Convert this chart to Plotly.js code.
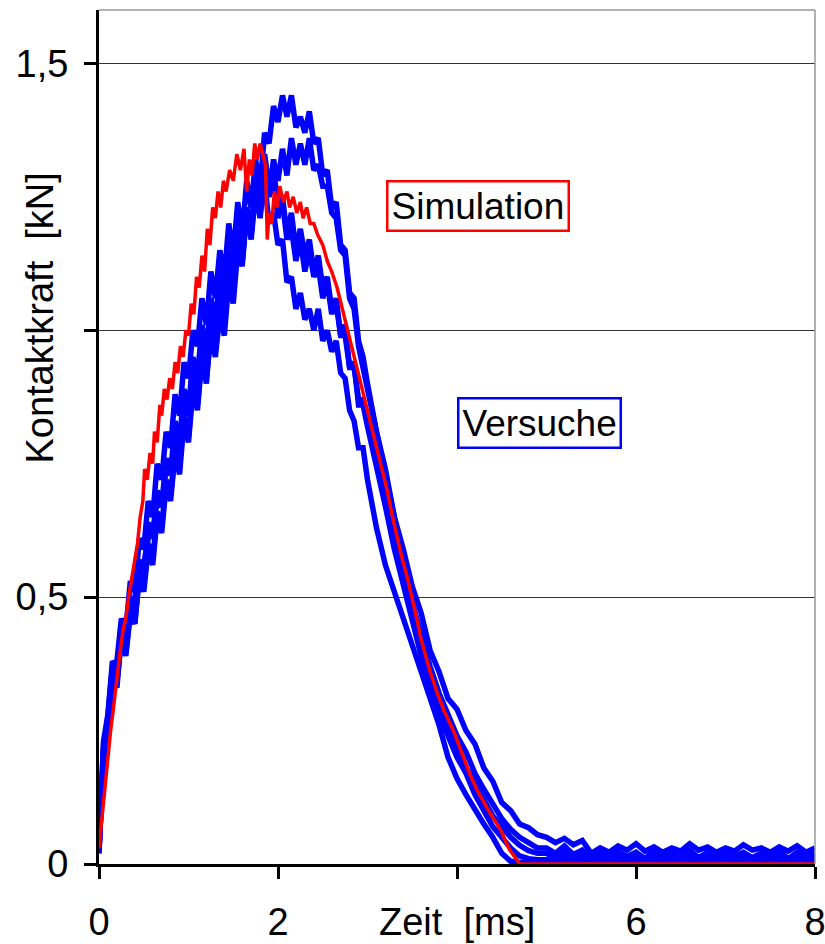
<!DOCTYPE html>
<html>
<head>
<meta charset="utf-8">
<script src="https://cdn.plot.ly/plotly-3.0.1.min.js"></script>
<style>html,body{margin:0;padding:0;background:#fff;}#chart{width:825px;height:944px;}</style>
</head>
<body>
<div id="chart"></div>
<script>
// ---------- DATA ----------
// common time grid of the measured curves (ms)
const tVersuch = [
0.00,0.05,0.10,0.15,0.20,0.25,0.30,0.35,0.40,0.45,0.50,0.55,0.60,0.65,0.70,0.75,0.80,0.85,0.90,0.95,
1.00,1.05,1.10,1.15,1.20,1.25,1.30,1.35,1.40,1.45,1.50,1.55,1.60,1.65,1.70,1.75,1.80,1.85,1.90,1.95,
2.00,2.05,2.10,2.15,2.20,2.25,2.30,2.35,2.40,2.45,2.50,2.55,2.60,2.65,2.70,2.75,2.80,2.85,2.90,2.95,
3.0,3.1,3.2,3.3,3.4,3.5,3.6,3.7,3.8,3.9,4.0,4.1,4.2,4.3,4.4,4.5,4.6,4.7,4.8,4.9,
5.0,5.1,5.2,5.3,5.4,5.5,5.6,5.7,5.8,5.9,6.0,6.1,6.2,6.3,6.4,6.5,6.6,6.7,6.8,6.9,
7.0,7.1,7.2,7.3,7.4,7.5,7.6,7.7,7.8,7.9,8.0];

// measured contact force (kN), five tests
const versuch1 = [
0.02,0.21,0.25,0.36,0.33,0.43,0.40,0.47,0.45,0.54,0.52,0.60,0.57,0.66,0.63,0.72,0.69,0.78,0.75,0.84,
0.80,0.90,0.86,0.95,0.91,0.99,0.95,1.03,0.99,1.09,1.05,1.15,1.12,1.22,1.18,1.29,1.27,1.37,1.35,1.42,
1.39,1.44,1.40,1.44,1.38,1.40,1.37,1.41,1.35,1.36,1.29,1.30,1.23,1.24,1.16,1.15,1.07,1.06,0.98,0.95,
0.90,0.81,0.74,0.65,0.59,0.52,0.47,0.40,0.36,0.31,0.29,0.25,0.225,0.18,0.155,0.115,0.10,0.075,0.068,0.055,
0.050,0.040,0.048,0.036,0.044,0.020,0.030,0.022,0.034,0.026,0.038,0.024,0.032,0.022,0.030,0.024,0.038,0.026,0.032,0.022,
0.030,0.024,0.036,0.026,0.030,0.022,0.032,0.024,0.034,0.022,0.030];

const versuch2 = [
0.03,0.22,0.27,0.35,0.37,0.42,0.43,0.48,0.50,0.55,0.56,0.61,0.62,0.68,0.67,0.74,0.73,0.80,0.77,0.86,
0.84,0.93,0.89,0.98,0.94,1.04,0.99,1.09,1.04,1.14,1.09,1.18,1.13,1.22,1.17,1.26,1.21,1.29,1.25,1.32,
1.28,1.34,1.29,1.36,1.31,1.35,1.31,1.36,1.30,1.31,1.27,1.27,1.22,1.21,1.15,1.14,1.06,1.04,0.97,0.93,
0.88,0.80,0.73,0.64,0.57,0.49,0.43,0.37,0.32,0.28,0.24,0.21,0.17,0.14,0.11,0.085,0.065,0.05,0.04,0.03,
0.030,0.020,0.034,0.018,0.026,0.010,0.022,0.012,0.024,0.014,0.022,0.010,0.024,0.012,0.020,0.014,0.026,0.012,0.022,0.010,
0.024,0.014,0.022,0.012,0.020,0.014,0.024,0.010,0.022,0.012,0.020];

const versuch3 = [
0.03,0.20,0.28,0.37,0.38,0.46,0.44,0.53,0.51,0.61,0.59,0.68,0.65,0.75,0.72,0.81,0.78,0.88,0.84,0.94,
0.91,1.00,0.97,1.06,1.01,1.11,1.06,1.15,1.10,1.20,1.14,1.24,1.18,1.28,1.23,1.32,1.26,1.33,1.27,1.31,
1.22,1.24,1.17,1.19,1.13,1.17,1.11,1.15,1.10,1.12,1.06,1.09,1.03,1.06,0.99,1.01,0.93,0.94,0.86,0.86,
0.82,0.75,0.67,0.59,0.52,0.45,0.39,0.33,0.28,0.24,0.20,0.17,0.13,0.10,0.07,0.05,0.03,0.015,0.010,0.008,
0.008,0.004,0.014,0.006,0.012,0.004,0.010,0.006,0.014,0.004,0.012,0.006,0.010,0.004,0.012,0.006,0.014,0.004,0.010,0.006,
0.012,0.004,0.010,0.006,0.014,0.004,0.012,0.006,0.010,0.004,0.012];

const versuch4 = [
0.02,0.23,0.28,0.38,0.37,0.45,0.42,0.50,0.47,0.57,0.54,0.64,0.61,0.70,0.67,0.76,0.73,0.83,0.79,0.89,
0.85,0.95,0.91,1.01,0.96,1.06,1.01,1.11,1.06,1.15,1.10,1.19,1.14,1.23,1.18,1.27,1.22,1.28,1.20,1.22,
1.16,1.17,1.09,1.10,1.04,1.07,1.02,1.04,1.00,1.04,0.98,1.00,0.96,0.98,0.92,0.91,0.85,0.83,0.78,0.78,
0.72,0.63,0.56,0.51,0.46,0.41,0.36,0.31,0.26,0.20,0.16,0.13,0.10,0.075,0.05,0.02,0.005,0.003,0.004,0.003,
0.004,0.002,0.005,0.003,0.006,0.002,0.004,0.005,0.003,0.004,0.002,0.005,0.003,0.004,0.006,0.002,0.004,0.003,0.005,0.002,
0.004,0.003,0.005,0.002,0.004,0.006,0.003,0.004,0.002,0.005,0.003];

const versuch5 = [
0.03,0.19,0.24,0.34,0.34,0.42,0.39,0.47,0.45,0.54,0.51,0.59,0.56,0.65,0.62,0.71,0.68,0.77,0.73,0.83,
0.79,0.89,0.85,0.95,0.90,1.01,0.97,1.07,1.02,1.13,1.08,1.18,1.13,1.23,1.18,1.28,1.22,1.30,1.25,1.29,
1.21,1.25,1.18,1.22,1.15,1.19,1.14,1.17,1.11,1.14,1.08,1.10,1.04,1.05,0.99,0.99,0.93,0.93,0.87,0.87,
0.83,0.76,0.69,0.61,0.54,0.47,0.41,0.35,0.30,0.26,0.22,0.18,0.15,0.12,0.09,0.07,0.05,0.035,0.025,0.020,
0.020,0.010,0.024,0.008,0.018,0.006,0.016,0.008,0.020,0.010,0.018,0.006,0.016,0.010,0.020,0.008,0.018,0.006,0.016,0.010,
0.020,0.008,0.016,0.006,0.018,0.010,0.020,0.008,0.016,0.006,0.018];

// simulation (kN)
const tSimulation = [
0.00,0.05,0.09,0.13,0.16,0.20,0.23,0.27,0.30,0.33,0.36,0.40,0.43,0.46,0.49,0.51,0.54,0.57,0.60,0.62,
0.65,0.68,0.70,0.73,0.76,0.79,0.82,0.85,0.88,0.91,0.94,0.97,1.00,1.03,1.06,1.09,1.12,1.15,1.18,1.21,
1.24,1.27,1.30,1.33,1.36,1.39,1.42,1.46,1.50,1.54,1.58,1.62,1.65,1.68,1.71,1.74,1.77,1.80,1.83,1.86,
1.88,1.90,1.93,1.96,1.99,2.02,2.06,2.10,2.13,2.17,2.21,2.25,2.28,2.32,2.36,2.40,2.44,2.50,2.55,2.60,
2.66,2.72,2.77,2.83,2.88,2.94,3.00,3.06,3.12,3.17,3.22,3.28,3.33,3.39,3.44,3.50,3.55,3.60,3.65,3.70,
3.78,3.86,3.96,4.05,4.14,4.22,4.30,4.37,4.44,4.50,4.55,4.59,4.65,4.70,8.00];
const simulation = [
0.03,0.12,0.18,0.25,0.29,0.35,0.39,0.44,0.46,0.50,0.53,0.575,0.60,0.65,0.68,0.74,0.72,0.77,0.75,0.81,
0.79,0.86,0.84,0.89,0.87,0.91,0.89,0.94,0.92,0.97,0.95,1.00,0.99,1.05,1.03,1.10,1.08,1.14,1.11,1.19,
1.16,1.23,1.21,1.26,1.23,1.28,1.26,1.30,1.28,1.33,1.30,1.34,1.26,1.32,1.29,1.35,1.32,1.35,1.33,1.31,
1.17,1.22,1.20,1.26,1.23,1.27,1.24,1.26,1.23,1.25,1.22,1.24,1.21,1.23,1.20,1.20,1.18,1.16,1.13,1.11,
1.08,1.04,1.00,0.96,0.93,0.89,0.85,0.81,0.77,0.74,0.70,0.65,0.61,0.57,0.54,0.50,0.46,0.42,0.39,0.36,
0.32,0.285,0.25,0.21,0.17,0.14,0.115,0.095,0.077,0.06,0.04,0.026,0.012,0.0,0.0];

const xTickVals = [0, 2, 4, 6, 8];
const xTickText = ['0', '2', '', '6', '8'];
const yTickVals = [0, 0.5, 1, 1.5];
const yTickText = ['0', '0,5', '', '1,5'];

// ---------- CHART ----------
const BLUE = '#0000ff', RED = '#ff0000';
const FONT = 'Liberation Sans, Arial, sans-serif';
const versuche = [versuch1, versuch2, versuch3, versuch4, versuch5];
const traces = versuche.map(v => ({
  x: tVersuch, y: v, type: 'scatter', mode: 'lines',
  line: {color: BLUE, width: 5.5}, hoverinfo: 'skip', showlegend: false
}));
traces.push({
  x: tSimulation, y: simulation, type: 'scatter', mode: 'lines',
  line: {color: RED, width: 3.5}, hoverinfo: 'skip', showlegend: false
});

const layout = {
  width: 825, height: 944,
  margin: {l: 99, r: 10, t: 10, b: 80},
  paper_bgcolor: '#fff', plot_bgcolor: '#fff',
  font: {family: FONT, size: 38, color: '#000'},
  showlegend: false,
  xaxis: {
    range: [0, 8], tickvals: xTickVals, ticktext: xTickText,
    showline: true, linecolor: '#000', linewidth: 3,
    ticks: 'outside', ticklen: 12, tickwidth: 3, tickcolor: '#000',
    showgrid: false, zeroline: false, ticklabelstandoff: 10,
    ticklabeloverflow: 'allow',
    tickfont: {family: FONT, size: 38, color: '#000'}
  },
  yaxis: {
    range: [0, 1.6], tickvals: yTickVals, ticktext: yTickText,
    showline: true, linecolor: '#000', linewidth: 3,
    ticks: 'outside', ticklen: 12, tickwidth: 3, tickcolor: '#000',
    showgrid: true, gridcolor: '#333', gridwidth: 1, zeroline: false,
    ticklabelstandoff: 8, ticklabeloverflow: 'allow',
    tickfont: {family: FONT, size: 38, color: '#000'}
  },
  shapes: [
    {type: 'line', xref: 'paper', yref: 'paper', x0: 0, x1: 1, y0: 1, y1: 1, line: {color: '#999', width: 1.5}},
    {type: 'line', xref: 'paper', yref: 'paper', x0: 1, x1: 1, y0: 0, y1: 1, line: {color: '#999', width: 1.5}}
  ],
  annotations: [
    {text: 'Zeit\u00a0 [ms]', xref: 'x', yref: 'paper', x: 4, y: -0.068, showarrow: false,
     xanchor: 'center', yanchor: 'middle', font: {family: FONT, size: 38, color: '#000'}},
    {text: 'Kontaktkraft\u00a0 [kN]', xref: 'paper', yref: 'paper', x: -0.082, y: 0.639, showarrow: false,
     textangle: -90, xanchor: 'center', yanchor: 'middle', font: {family: FONT, size: 38, color: '#000'}},
    {text: 'Simulation', xref: 'x', yref: 'y', x: 4.23, y: 1.232, showarrow: false,
     xanchor: 'center', yanchor: 'middle', bordercolor: RED, borderwidth: 2.5, borderpad: 3,
     bgcolor: '#fff', font: {family: FONT, size: 37, color: '#000'}},
    {text: 'Versuche', xref: 'x', yref: 'y', x: 4.92, y: 0.826, showarrow: false,
     xanchor: 'center', yanchor: 'middle', bordercolor: BLUE, borderwidth: 2.5, borderpad: 3,
     bgcolor: '#fff', font: {family: FONT, size: 37, color: '#000'}}
  ]
};

Plotly.newPlot('chart', traces, layout, {staticPlot: true, displayModeBar: false});
</script>
</body>
</html>
